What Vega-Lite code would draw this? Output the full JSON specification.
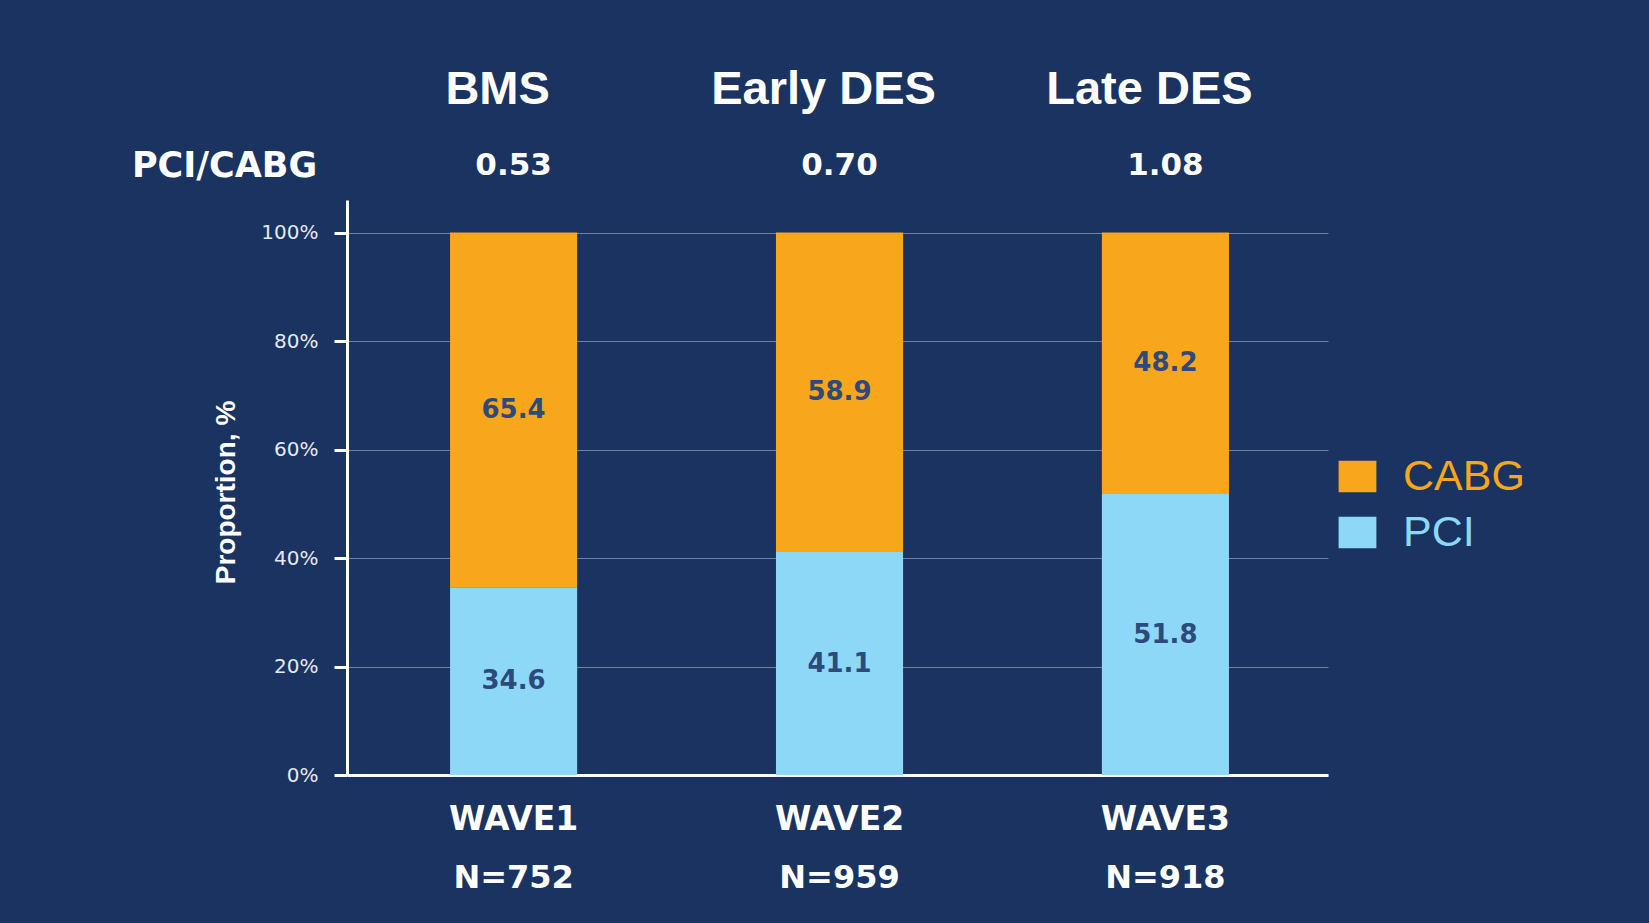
{
  "$schema": "https://vega.github.io/schema/vega-lite/v6.json",
  "width": 981,
  "height": 575,
  "autosize": {"type": "none"},
  "padding": {"left": 347, "top": 200, "right": 321, "bottom": 148},
  "background": "#1a3360",
  "config": {"view": {"stroke": null}, "font": "Liberation Sans"},
  "datasets": {
    "bars": [
      {"wave": "WAVE1", "type": "PCI", "pct": 34.6},
      {"wave": "WAVE1", "type": "CABG", "pct": 65.4},
      {"wave": "WAVE2", "type": "PCI", "pct": 41.1},
      {"wave": "WAVE2", "type": "CABG", "pct": 58.9},
      {"wave": "WAVE3", "type": "PCI", "pct": 51.8},
      {"wave": "WAVE3", "type": "CABG", "pct": 48.2}
    ],
    "waves": [
      {"wave": "WAVE1", "era": "BMS", "ratio": "0.53", "n": "N=752"},
      {"wave": "WAVE2", "era": "Early DES", "ratio": "0.70", "n": "N=959"},
      {"wave": "WAVE3", "era": "Late DES", "ratio": "1.08", "n": "N=918"}
    ]
  },
  "encoding": {
    "x": {
      "field": "wave",
      "type": "nominal",
      "title": null,
      "scale": {"paddingInner": 0.61, "paddingOuter": 0.31, "align": 0.51},
      "axis": {
        "domainColor": "#ffffff",
        "domainWidth": 3,
        "ticks": false,
        "tickSize": 0,
        "grid": false,
        "labelAngle": 0,
        "labelFont": "DejaVu Sans",
        "labelFontWeight": "bold",
        "labelFontSize": 33,
        "labelColor": "#ffffff",
        "labelPadding": 44,
        "labelBaseline": "middle"
      }
    }
  },
  "layer": [
    {
      "data": {"name": "bars"},
      "transform": [
        {"stack": "pct", "groupby": ["wave"], "sort": [{"field": "type", "order": "descending"}], "as": ["y0", "y1"]}
      ],
      "mark": {"type": "bar"},
      "encoding": {
        "y": {
          "field": "y0",
          "type": "quantitative",
          "title": "Proportion, %",
          "scale": {"domain": [0, 106], "nice": false, "zero": true},
          "axis": {
            "values": [0, 20, 40, 60, 80, 100],
            "labelExpr": "datum.value + '%'",
            "grid": true,
            "gridColor": "#6f82a6",
            "gridWidth": 1,
            "domainColor": "#ffffff",
            "domainWidth": 3,
            "tickColor": "#ffffff",
            "tickWidth": 3,
            "tickSize": 13,
            "labelPadding": 16,
            "labelFont": "DejaVu Sans",
            "labelFontSize": 20,
            "labelColor": "#e4e9f1",
            "titleFont": "Liberation Sans",
            "titleFontSize": 28,
            "titleFontWeight": "bold",
            "titleColor": "#ffffff",
            "titleAngle": -90,
            "titleX": -121,
            "titleY": 292,
            "titleAlign": "center",
            "titleBaseline": "middle"
          }
        },
        "y2": {"field": "y1"},
        "color": {
          "field": "type",
          "type": "nominal",
          "scale": {"domain": ["CABG", "PCI"], "range": ["#F8A61C", "#8DD7F7"]},
          "legend": {
            "orient": "none",
            "legendX": 989,
            "legendY": 255,
            "title": null,
            "symbolType": "M-1.2,-1H1.2V1H-1.2Z",
            "symbolSize": 992,
            "symbolStrokeWidth": 0,
            "symbolOpacity": 1,
            "labelFont": "Liberation Sans",
            "labelFontSize": 43,
            "labelColor": {"expr": "datum.value == 'CABG' ? '#F8A61C' : '#8DD7F7'"},
            "labelOffset": 24,
            "labelLimit": 400,
            "rowPadding": 12
          }
        }
      }
    },
    {
      "data": {"name": "bars"},
      "transform": [
        {"stack": "pct", "groupby": ["wave"], "sort": [{"field": "type", "order": "descending"}], "as": ["y0", "y1"]},
        {"calculate": "(datum.y0 + datum.y1) / 2", "as": "mid"}
      ],
      "mark": {"type": "text", "font": "DejaVu Sans", "fontWeight": "bold", "fontSize": 26, "color": "#2c4a7c", "baseline": "middle"},
      "encoding": {
        "y": {"field": "mid", "type": "quantitative", "title": "Proportion, %"},
        "text": {"field": "pct", "type": "quantitative", "format": ".1f"}
      }
    },
    {
      "data": {"name": "waves"},
      "mark": {"type": "text", "font": "Liberation Sans", "fontWeight": "bold", "fontSize": 47, "color": "#ffffff", "baseline": "middle", "dx": -16},
      "encoding": {
        "y": {"datum": 126.2, "type": "quantitative", "title": "Proportion, %"},
        "text": {"field": "era"}
      }
    },
    {
      "data": {"name": "waves"},
      "mark": {"type": "text", "font": "DejaVu Sans", "fontWeight": "bold", "fontSize": 31, "color": "#ffffff", "baseline": "middle"},
      "encoding": {
        "y": {"datum": 112.2, "type": "quantitative", "title": "Proportion, %"},
        "text": {"field": "ratio"}
      }
    },
    {
      "data": {"name": "waves"},
      "mark": {"type": "text", "font": "DejaVu Sans", "fontWeight": "bold", "fontSize": 32, "color": "#ffffff", "baseline": "middle"},
      "encoding": {
        "y": {"datum": -18.9, "type": "quantitative", "title": "Proportion, %"},
        "text": {"field": "n"}
      }
    },
    {
      "data": {"values": [{"label": "PCI/CABG"}]},
      "mark": {"type": "text", "font": "DejaVu Sans", "fontWeight": "bold", "fontSize": 35, "color": "#ffffff", "baseline": "middle", "dx": -289},
      "encoding": {
        "x": {"datum": "WAVE1", "type": "nominal", "title": null},
        "y": {"datum": 112.2, "type": "quantitative", "title": "Proportion, %"},
        "text": {"field": "label"}
      }
    }
  ]
}
